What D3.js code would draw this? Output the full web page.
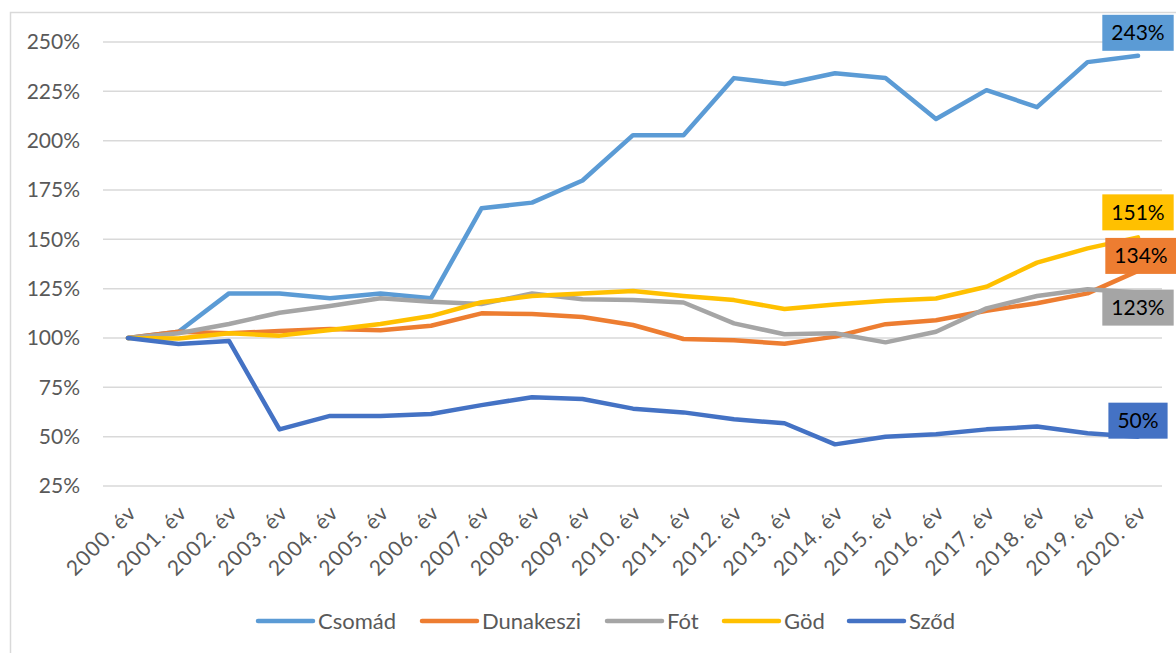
<!DOCTYPE html>
<html>
<head>
<meta charset="utf-8">
<script src="https://cdn.jsdelivr.net/npm/d3@7"></script>
<style>
  body { margin: 0; background: #fff; }
  text { font-family: Lato, "Open Sans", sans-serif; }
</style>
</head>
<body>
<div id="chart"></div>
<script>
// data (percent, 2000 = 100%)
const years = ["2000. év", "2001. év", "2002. év", "2003. év", "2004. év", "2005. év", "2006. év",
  "2007. év", "2008. év", "2009. év", "2010. év", "2011. év", "2012. év", "2013. év",
  "2014. év", "2015. év", "2016. év", "2017. év", "2018. év", "2019. év", "2020. év"];
const csomad = [100, 103.2, 122.6, 122.6, 120.1, 122.6, 120.1, 165.7, 168.6, 179.8, 202.8, 202.8, 231.7, 228.7, 234.2, 231.7, 211, 225.6, 217, 239.8, 243];
const dunakeszi = [100, 103.2, 102.4, 103.5, 104.5, 103.9, 106.2, 112.5, 112.2, 110.6, 106.6, 99.5, 98.8, 97.1, 100.7, 107, 109, 113.8, 117.6, 122.6, 134];
const fot = [100, 102.4, 107.1, 112.8, 116.2, 120.1, 118.4, 117.2, 122.6, 119.6, 119.3, 118, 107.4, 101.9, 102.4, 97.8, 103.2, 115, 121.3, 124.7, 123];
const god = [100, 99.8, 102.4, 101.2, 104, 107.1, 111.1, 118.1, 121.3, 122.6, 123.8, 121.3, 119.2, 114.7, 117, 118.9, 120, 126, 138.2, 145.4, 151];
const szod = [100, 97, 98.5, 53.7, 60.5, 60.5, 61.5, 66, 70, 69.1, 64.2, 62.3, 58.8, 56.8, 46.1, 50, 51.2, 53.7, 55.1, 51.7, 50];
const yTicks = [25, 50, 75, 100, 125, 150, 175, 200, 225, 250];

const series = [
  {name: "Csomád", values: csomad, color: "#5B9BD5"},
  {name: "Dunakeszi", values: dunakeszi, color: "#ED7D31"},
  {name: "Fót", values: fot, color: "#A5A5A5"},
  {name: "Göd", values: god, color: "#FFC000"},
  {name: "Sződ", values: szod, color: "#4472C4"}
];

// where the end-value boxes sit relative to the last point
const labelOffsets = {"Csomád": [0, -23], "Dunakeszi": [3, -15], "Fót": [0, 15], "Göd": [0, -25], "Sződ": [0, -16]};

const W = 1176, H = 653;
const svg = d3.select("#chart").append("svg")
  .attr("width", W).attr("height", H);

// chart frame (only left and top edges show)
svg.append("path")
  .attr("d", `M10.5,${H} V12.5 H${W}`)
  .attr("fill", "none")
  .attr("stroke", "#d9d9d9")
  .attr("stroke-width", 1.5);

const x = d3.scalePoint().domain(years).range([128, 1138]);
const y = d3.scaleLinear().domain([25, 250]).range([486, 42]);

// gridlines
svg.append("g")
  .selectAll("line")
  .data(yTicks)
  .join("line")
  .attr("x1", 103).attr("x2", 1162)
  .attr("y1", d => y(d)).attr("y2", d => y(d))
  .attr("stroke", "#d9d9d9")
  .attr("stroke-width", 1.5);

// y axis labels
const yAxis = svg.append("g")
  .attr("transform", "translate(86,0)")
  .call(d3.axisLeft(y).tickValues(yTicks).tickSize(0).tickPadding(6).tickFormat(d => d + "%"));
yAxis.select(".domain").remove();
yAxis.selectAll("text")
  .attr("fill", "#595959")
  .style("font-size", "21px")
  .style("font-family", "Lato, sans-serif");

// x axis labels, rotated
const xAxis = svg.append("g")
  .attr("transform", "translate(0,509)")
  .call(d3.axisBottom(x).tickSize(0).tickPadding(0));
xAxis.select(".domain").remove();
xAxis.selectAll("text")
  .attr("fill", "#595959")
  .style("font-size", "21px")
  .style("letter-spacing", "1px")
  .style("font-family", "Lato, sans-serif")
  .attr("text-anchor", "end")
  .attr("dy", "0.35em")
  .attr("transform", "translate(4,0) rotate(-45)");

// lines
const line = d3.line()
  .x((d, i) => x(years[i]))
  .y(d => y(d));

svg.append("g")
  .selectAll("path")
  .data(series)
  .join("path")
  .attr("d", d => line(d.values))
  .attr("fill", "none")
  .attr("stroke", d => d.color)
  .attr("stroke-width", 4.5)
  .attr("stroke-linejoin", "round")
  .attr("stroke-linecap", "round");

// end value labels
const last = years.length - 1;
const labels = svg.append("g")
  .selectAll("g")
  .data(series)
  .join("g")
  .attr("transform", d => {
    const o = labelOffsets[d.name];
    return `translate(${x(years[last]) + o[0]},${y(d.values[last]) + o[1]})`;
  });
labels.append("text")
  .attr("text-anchor", "middle")
  .attr("dy", "0.36em")
  .style("font-size", "21px")
  .attr("fill", "#000")
  .text(d => Math.round(d.values[last]) + "%");
labels.insert("rect", "text")
  .each(function() {
    const t = d3.select(this.parentNode).select("text").node().getBBox();
    d3.select(this)
      .attr("x", -t.width / 2 - 9)
      .attr("y", -18)
      .attr("width", t.width + 18)
      .attr("height", 36);
  })
  .attr("fill", d => d.color);

// legend
const legendX = [258, 422, 607, 724, 849];
const legend = svg.append("g")
  .selectAll("g")
  .data(series)
  .join("g")
  .attr("transform", (d, i) => `translate(${legendX[i]},621)`);
legend.append("line")
  .attr("x1", 0).attr("x2", 55)
  .attr("stroke", d => d.color)
  .attr("stroke-width", 4.5)
  .attr("stroke-linecap", "round");
legend.append("text")
  .attr("x", 60)
  .attr("dy", "0.35em")
  .attr("fill", "#595959")
  .style("font-size", "22px")
  .text(d => d.name);
</script>
</body>
</html>
